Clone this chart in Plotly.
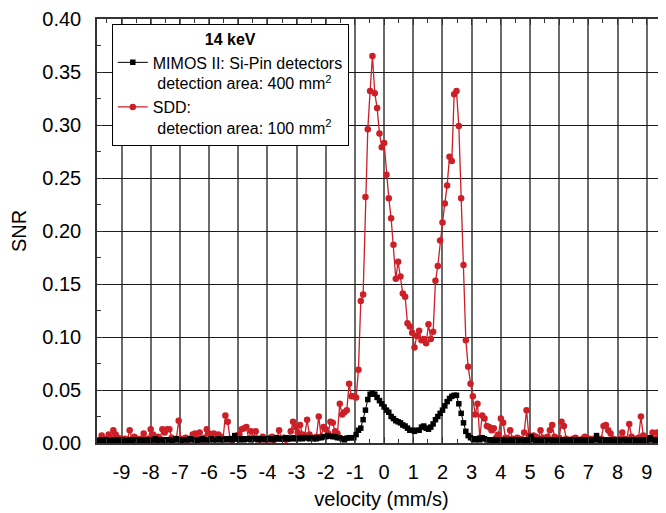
import plotly.graph_objects as go

velocity = [
    -9.84, -9.76, -9.68, -9.60, -9.52, -9.44, -9.36, -9.28, -9.20, -9.12,
    -9.04, -8.96, -8.88, -8.80, -8.72, -8.64, -8.56, -8.48, -8.40, -8.32,
    -8.24, -8.16, -8.08, -8.00, -7.92, -7.84, -7.76, -7.68, -7.60, -7.52,
    -7.44, -7.36, -7.28, -7.20, -7.12, -7.04, -6.96, -6.88, -6.80, -6.72,
    -6.64, -6.56, -6.48, -6.40, -6.32, -6.24, -6.16, -6.08, -6.00, -5.92,
    -5.84, -5.76, -5.68, -5.60, -5.52, -5.44, -5.36, -5.28, -5.20, -5.12,
    -5.04, -4.96, -4.88, -4.80, -4.72, -4.64, -4.56, -4.48, -4.40, -4.32,
    -4.24, -4.16, -4.08, -4.00, -3.92, -3.84, -3.76, -3.68, -3.60, -3.52,
    -3.44, -3.36, -3.28, -3.20, -3.12, -3.04, -2.96, -2.88, -2.80, -2.72,
    -2.64, -2.56, -2.48, -2.40, -2.32, -2.24, -2.16, -2.08, -2.00, -1.92,
    -1.84, -1.76, -1.68, -1.60, -1.52, -1.44, -1.36, -1.28, -1.20, -1.12,
    -1.04, -0.96, -0.88, -0.80, -0.72, -0.64, -0.56, -0.48, -0.40, -0.32,
    -0.24, -0.16, -0.08, 0.00, 0.08, 0.16, 0.24, 0.32, 0.40, 0.48,
    0.56, 0.64, 0.72, 0.80, 0.88, 0.96, 1.04, 1.12, 1.20, 1.28,
    1.36, 1.44, 1.52, 1.60, 1.68, 1.76, 1.84, 1.92, 2.00, 2.08,
    2.16, 2.24, 2.32, 2.40, 2.48, 2.56, 2.64, 2.72, 2.80, 2.88,
    2.96, 3.04, 3.12, 3.20, 3.28, 3.36, 3.44, 3.52, 3.60, 3.68,
    3.76, 3.84, 3.92, 4.00, 4.08, 4.16, 4.24, 4.32, 4.40, 4.48,
    4.56, 4.64, 4.72, 4.80, 4.88, 4.96, 5.04, 5.12, 5.20, 5.28,
    5.36, 5.44, 5.52, 5.60, 5.68, 5.76, 5.84, 5.92, 6.00, 6.08,
    6.16, 6.24, 6.32, 6.40, 6.48, 6.56, 6.64, 6.72, 6.80, 6.88,
    6.96, 7.04, 7.12, 7.20, 7.28, 7.36, 7.44, 7.52, 7.60, 7.68,
    7.76, 7.84, 7.92, 8.00, 8.08, 8.16, 8.24, 8.32, 8.40, 8.48,
    8.56, 8.64, 8.72, 8.80, 8.88, 8.96, 9.04, 9.12, 9.20, 9.28,
    9.36, 9.44, 9.52, 9.60, 9.68, 9.76,
]

snr_sdd = [
    0.002, 0.003, 0.007, 0.004, 0.003, 0.008, 0.004, 0.012, 0.008, 0.005,
    0.004, 0.003, 0.004, 0.003, 0.012, 0.004, 0.006, 0.004, 0.003, 0.004,
    0.009, 0.003, 0.004, 0.013, 0.008, 0.003, 0.006, 0.004, 0.013, 0.010,
    0.013, 0.013, 0.005, 0.003, 0.004, 0.021, 0.003, 0.004, 0.005, 0.003,
    0.004, 0.008, 0.009, 0.004, 0.010, 0.003, 0.005, 0.013, 0.009, 0.004,
    0.009, 0.005, 0.008, 0.006, 0.004, 0.026, 0.020, 0.004, 0.003, 0.004,
    0.007, 0.008, 0.013, 0.014, 0.015, 0.004, 0.011, 0.005, 0.011, 0.004,
    0.003, 0.006, 0.004, 0.003, 0.005, 0.006, 0.003, 0.004, 0.012, 0.004,
    0.005, 0.003, 0.004, 0.011, 0.020, 0.015, 0.010, 0.017, 0.008, 0.007,
    0.022, 0.008, 0.005, 0.004, 0.006, 0.025, 0.006, 0.015, 0.013, 0.009,
    0.020, 0.019, 0.011, 0.009, 0.037, 0.027, 0.029, 0.031, 0.056, 0.044,
    0.044, 0.043, 0.069, 0.134, 0.140, 0.232, 0.296, 0.332, 0.365, 0.330,
    0.316, 0.292, 0.279, 0.283, 0.253, 0.231, 0.212, 0.187, 0.155, 0.171,
    0.157, 0.141, 0.138, 0.113, 0.110, 0.104, 0.090, 0.101, 0.106, 0.097,
    0.098, 0.094, 0.112, 0.098, 0.105, 0.153, 0.167, 0.191, 0.208, 0.226,
    0.243, 0.270, 0.266, 0.329, 0.332, 0.299, 0.231, 0.168, 0.097, 0.072,
    0.056, 0.044, 0.027, 0.037, 0.005, 0.026, 0.023, 0.016, 0.015, 0.012,
    0.014, 0.005, 0.008, 0.023, 0.019, 0.005, 0.004, 0.012, 0.004, 0.003,
    0.005, 0.004, 0.003, 0.010, 0.031, 0.007, 0.006, 0.007, 0.006, 0.004,
    0.012, 0.005, 0.004, 0.006, 0.012, 0.017, 0.006, 0.004, 0.005, 0.020,
    0.016, 0.004, 0.002, 0.003, 0.004, 0.005, 0.003, 0.002, 0.004, 0.006,
    0.003, 0.004, 0.003, 0.004, 0.005, 0.003, 0.004, 0.016, 0.017, 0.012,
    0.009, 0.004, 0.003, 0.003, 0.004, 0.010, 0.004, 0.003, 0.018, 0.006,
    0.004, 0.003, 0.005, 0.025, 0.007, 0.004, 0.003, 0.004, 0.010, 0.004,
    0.010, 0.005, 0.010, 0.008, 0.004, 0.003,
]

snr_mimos = [
    0.002, 0.002, 0.003, 0.002, 0.003, 0.002, 0.002, 0.003, 0.002, 0.003,
    0.002, 0.003, 0.002, 0.002, 0.003, 0.002, 0.003, 0.003, 0.002, 0.003,
    0.002, 0.003, 0.003, 0.002, 0.003, 0.004, 0.002, 0.003, 0.003, 0.002,
    0.003, 0.003, 0.002, 0.003, 0.004, 0.003, 0.002, 0.003, 0.003, 0.003,
    0.004, 0.003, 0.003, 0.002, 0.003, 0.004, 0.003, 0.003, 0.003, 0.004,
    0.003, 0.003, 0.004, 0.003, 0.003, 0.004, 0.003, 0.004, 0.003, 0.007,
    0.004, 0.003, 0.004, 0.003, 0.004, 0.004, 0.003, 0.004, 0.004, 0.003,
    0.004, 0.004, 0.003, 0.004, 0.004, 0.003, 0.004, 0.005, 0.004, 0.004,
    0.004, 0.005, 0.004, 0.004, 0.005, 0.004, 0.004, 0.005, 0.004, 0.005,
    0.005, 0.004, 0.005, 0.005, 0.004, 0.005, 0.005, 0.006, 0.006, 0.007,
    0.0065, 0.006, 0.006, 0.005, 0.005, 0.004, 0.003, 0.0045, 0.005, 0.005,
    0.005, 0.008, 0.012, 0.014, 0.022, 0.031, 0.041, 0.046, 0.047, 0.046,
    0.043, 0.040, 0.037, 0.034, 0.031, 0.029, 0.025, 0.023, 0.021, 0.020,
    0.019, 0.017, 0.016, 0.014, 0.012, 0.012, 0.011, 0.012, 0.012, 0.015,
    0.016, 0.014, 0.013, 0.015, 0.018, 0.022, 0.025, 0.028, 0.031, 0.035,
    0.039, 0.042, 0.044, 0.045, 0.045, 0.037, 0.028, 0.019, 0.011, 0.007,
    0.005, 0.004, 0.003, 0.004, 0.003, 0.005, 0.004, 0.003, 0.003, 0.002,
    0.003, 0.002, 0.003, 0.003, 0.002, 0.003, 0.002, 0.003, 0.002, 0.003,
    0.002, 0.003, 0.003, 0.002, 0.003, 0.002, 0.006, 0.003, 0.002, 0.003,
    0.002, 0.003, 0.002, 0.003, 0.003, 0.002, 0.003, 0.002, 0.003, 0.002,
    0.003, 0.002, 0.003, 0.002, 0.003, 0.002, 0.003, 0.003, 0.002, 0.003,
    0.002, 0.003, 0.002, 0.003, 0.007, 0.003, 0.002, 0.003, 0.002, 0.003,
    0.002, 0.003, 0.002, 0.003, 0.002, 0.003, 0.003, 0.002, 0.003, 0.002,
    0.003, 0.002, 0.003, 0.002, 0.003, 0.002, 0.003, 0.005, 0.003, 0.002,
    0.003, 0.002, 0.003, 0.002, 0.003, 0.002,
]

x_tick_values = [-9, -8, -7, -6, -5, -4, -3, -2, -1, 0, 1, 2, 3, 4, 5, 6, 7, 8, 9]
x_tick_labels = ["-9", "-8", "-7", "-6", "-5", "-4", "-3", "-2", "-1", "0",
                 "1", "2", "3", "4", "5", "6", "7", "8", "9"]

legend_title = "<b>14 keV</b>"
name_mimos = "MIMOS II: Si-Pin detectors<br>&nbsp;detection area: 400 mm<sup>2</sup>"
name_sdd = "SDD:<br>&nbsp;detection area: 100 mm<sup>2</sup>"

RED = "#cc1f27"
FONT = "Liberation Sans, Arial, sans-serif"

fig = go.Figure()
fig.add_trace(go.Scatter(
    x=velocity, y=snr_sdd, name=name_sdd, mode="lines+markers",
    line=dict(color=RED, width=1.3),
    marker=dict(symbol="circle", size=6.5, color=RED),
))
fig.add_trace(go.Scatter(
    x=velocity, y=snr_mimos, name=name_mimos, mode="lines+markers",
    line=dict(color="black", width=1),
    marker=dict(symbol="square", size=5.5, color="black"),
))

axis_common = dict(
    automargin=False,
    showgrid=True, gridwidth=1.2,
    showline=True, linecolor="#333333", linewidth=1.5, mirror="ticks",
    ticks="inside", tickcolor="#333333", ticklen=6, tickwidth=1.2,
    tickfont=dict(size=20, color="black", family=FONT),
    zeroline=False,
)

# the page body adds an 8 px offset, so the figure is sized to land the
# plot area at the reference position
fig.update_layout(
    template="none",
    width=658, height=505,
    margin=dict(l=89, r=0, t=11, b=70, autoexpand=False),
    paper_bgcolor="white", plot_bgcolor="white",
    font=dict(family=FONT, color="black"),
    showlegend=True,
    legend=dict(
        x=0.026, y=0.989, xanchor="left", yanchor="top",
        bgcolor="white", bordercolor="black", borderwidth=1,
        font=dict(size=16, family=FONT, color="black"),
        title=dict(text=legend_title, side="top center",
                   font=dict(size=16, family=FONT, color="black")),
        traceorder="reversed", valign="top",
    ),
    xaxis=dict(
        axis_common,
        gridcolor="#6a6a6a", gridwidth=1.5,
        range=[-9.84, 9.66],
        tickmode="array", tickvals=x_tick_values, ticktext=x_tick_labels,
        ticklabelstandoff=10,
        minor=dict(dtick=0.5, tick0=0, ticks="inside", ticklen=4,
                   tickcolor="#333333", showgrid=False),
        title=dict(text="velocity (mm/s)", font=dict(size=20, family=FONT),
                   standoff=10),
    ),
    yaxis=dict(
        axis_common,
        gridcolor="#1a1a1a",
        range=[0, 0.40], dtick=0.05, tick0=0, tickformat=".2f",
        ticklabelstandoff=10,
        minor=dict(dtick=0.025, tick0=0, ticks="inside", ticklen=4,
                   tickcolor="#333333", showgrid=False),
        title=dict(text="SNR", font=dict(size=20, family=FONT), standoff=12),
    ),
)

fig.write_html("out.html")
